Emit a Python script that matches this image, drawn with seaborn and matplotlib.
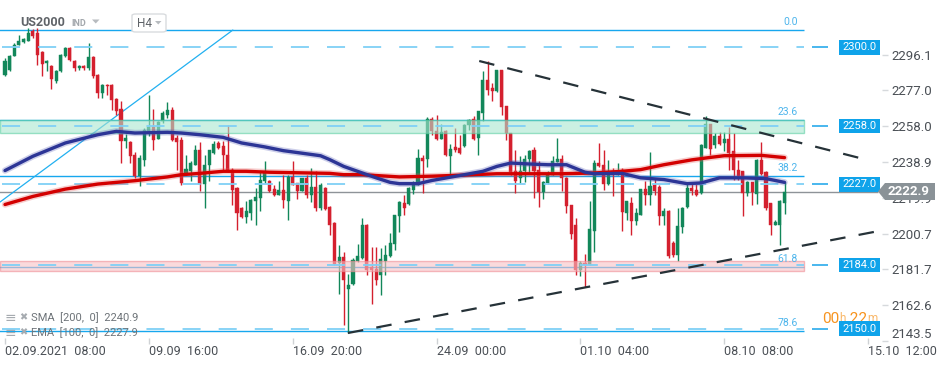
import matplotlib
matplotlib.use("Agg")
import matplotlib.pyplot as plt
import matplotlib.transforms as mtransforms
from matplotlib.patches import Polygon, Rectangle, FancyBboxPatch
import numpy as np
import pandas as pd
import seaborn as sns

# ---------------- data (US2000, H4) ----------------
opens = [2285.4, 2288.1, 2295.2, 2301.4, 2302.8, 2303.6, 2308.9, 2307.6, 2297.5, 2291.4,
         2289.8, 2281.9, 2287.2, 2295.2, 2299.6, 2292.9, 2288.7, 2290.2, 2289.0, 2294.7,
         2285.4, 2275.6, 2280.1, 2280.1, 2272.7, 2267.2, 2249.9, 2249.5, 2242.8, 2231.2,
         2240.1, 2255.6, 2257.4, 2251.2, 2260.6, 2263.8, 2266.6, 2251.6, 2250.6, 2232.8,
         2234.3, 2237.4, 2245.3, 2227.1, 2237.1, 2243.7, 2249.0, 2247.5, 2242.8, 2234.8,
         2225.0, 2214.4, 2209.3, 2211.7, 2218.3, 2219.7, 2228.6, 2228.6, 2224.4, 2221.4,
         2223.8, 2218.3, 2230.7, 2227.7, 2223.3, 2230.4, 2221.4, 2225.3, 2214.4, 2225.0,
         2214.8, 2206.3, 2185.0, 2188.0, 2171.3, 2173.8, 2185.9, 2187.7, 2205.1, 2182.8,
         2182.0, 2178.8, 2185.9, 2188.5, 2195.1, 2209.9, 2217.0, 2216.5, 2224.1, 2226.8,
         2240.9, 2240.6, 2261.8, 2255.6, 2251.2, 2255.2, 2241.9, 2246.6, 2246.3, 2247.2,
         2258.7, 2262.0, 2251.6, 2265.0, 2282.4, 2278.4, 2276.6, 2287.7, 2268.5, 2254.3,
         2233.9, 2230.4, 2234.3, 2240.6, 2245.3, 2234.5, 2222.9, 2227.5, 2232.1, 2238.9,
         2240.4, 2230.4, 2215.7, 2205.1, 2181.4, 2185.0, 2183.8, 2201.9, 2238.3, 2237.2,
         2227.1, 2233.9, 2232.1, 2234.6, 2211.7, 2217.0, 2207.6, 2210.8, 2224.6, 2221.4,
         2226.8, 2225.5, 2209.9, 2212.9, 2195.7, 2189.1, 2204.3, 2214.9, 2224.8, 2224.0,
         2222.4, 2246.3, 2259.3, 2248.1, 2252.5, 2249.0, 2251.2, 2244.6, 2234.8, 2233.9,
         2222.4, 2228.0, 2222.0, 2240.1, 2233.4, 2217.0, 2205.4, 2205.4, 2217.0]
highs = [2294.4, 2296.1, 2302.3, 2306.7, 2305.0, 2310.3, 2310.0, 2310.3, 2297.9, 2293.4,
         2290.4, 2288.1, 2296.4, 2299.9, 2299.9, 2293.3, 2290.7, 2290.7, 2302.3, 2295.1,
         2285.8, 2280.4, 2280.4, 2280.4, 2273.0, 2271.2, 2253.8, 2249.9, 2244.2, 2242.8,
         2257.0, 2274.8, 2267.1, 2260.6, 2265.9, 2270.9, 2268.2, 2253.4, 2252.0, 2242.8,
         2239.2, 2247.7, 2249.5, 2242.8, 2245.3, 2250.2, 2249.9, 2249.9, 2258.4, 2235.7,
         2225.3, 2214.8, 2217.9, 2219.2, 2225.0, 2234.3, 2239.6, 2229.5, 2226.8, 2228.6,
         2232.1, 2232.1, 2239.2, 2227.7, 2230.4, 2231.7, 2235.7, 2233.9, 2227.7, 2225.3,
         2215.3, 2206.7, 2194.4, 2190.9, 2179.2, 2187.7, 2195.1, 2209.1, 2205.8, 2193.3,
         2193.3, 2193.0, 2194.4, 2201.0, 2210.8, 2217.9, 2221.4, 2225.3, 2228.6, 2246.0,
         2242.8, 2262.7, 2262.7, 2263.8, 2259.1, 2256.1, 2248.4, 2257.0, 2253.1, 2259.1,
         2262.0, 2263.3, 2266.3, 2287.2, 2292.9, 2281.0, 2287.7, 2287.7, 2268.5, 2254.3,
         2245.5, 2241.9, 2242.8, 2245.5, 2246.6, 2239.2, 2228.6, 2233.9, 2241.9, 2251.6,
         2242.8, 2230.7, 2215.7, 2209.1, 2185.9, 2189.8, 2218.3, 2240.1, 2249.0, 2245.5,
         2240.0, 2235.7, 2238.3, 2235.7, 2218.3, 2220.0, 2214.4, 2224.6, 2228.6, 2244.2,
         2230.4, 2226.8, 2214.4, 2213.5, 2196.6, 2214.4, 2214.9, 2227.7, 2227.7, 2227.7,
         2248.4, 2263.3, 2259.3, 2254.3, 2254.9, 2254.9, 2257.4, 2254.3, 2240.1, 2234.3,
         2228.6, 2228.2, 2240.4, 2249.3, 2234.3, 2217.0, 2208.2, 2218.8, 2228.2]
lows = [2284.5, 2287.6, 2295.2, 2301.0, 2302.5, 2303.2, 2305.0, 2290.7, 2284.5, 2287.2,
        2277.7, 2281.0, 2286.8, 2294.8, 2292.5, 2287.2, 2288.1, 2288.1, 2288.1, 2283.6,
        2273.0, 2273.0, 2274.7, 2266.8, 2264.1, 2238.3, 2246.3, 2238.3, 2230.3, 2225.9,
        2236.5, 2252.5, 2245.4, 2251.2, 2259.7, 2262.4, 2249.9, 2234.8, 2226.8, 2232.1,
        2228.9, 2237.1, 2223.3, 2214.4, 2228.9, 2243.1, 2246.0, 2234.8, 2233.5, 2216.1,
        2202.7, 2209.0, 2206.4, 2208.2, 2205.4, 2212.6, 2227.7, 2222.9, 2220.9, 2221.4,
        2214.4, 2208.2, 2226.8, 2219.3, 2223.3, 2219.6, 2217.4, 2212.6, 2213.5, 2213.5,
        2199.8, 2184.1, 2168.5, 2152.1, 2147.7, 2173.5, 2185.6, 2187.4, 2178.4, 2163.2,
        2173.5, 2167.8, 2178.8, 2188.0, 2192.1, 2201.6, 2210.8, 2215.7, 2221.8, 2226.4,
        2222.2, 2236.0, 2253.1, 2250.7, 2251.2, 2241.9, 2232.1, 2244.2, 2243.1, 2246.8,
        2256.1, 2250.7, 2242.4, 2260.6, 2274.5, 2271.6, 2276.2, 2263.7, 2250.7, 2232.1,
        2222.4, 2227.7, 2228.2, 2233.0, 2219.6, 2214.9, 2219.3, 2227.1, 2231.7, 2238.9,
        2223.3, 2211.7, 2198.0, 2178.8, 2177.9, 2172.0, 2183.8, 2190.9, 2236.0, 2224.1,
        2226.8, 2220.5, 2231.7, 2201.9, 2208.2, 2200.1, 2205.1, 2210.4, 2216.1, 2216.1,
        2221.1, 2205.4, 2205.1, 2187.6, 2188.2, 2186.3, 2201.0, 2214.4, 2221.4, 2220.5,
        2222.0, 2246.3, 2242.8, 2246.3, 2248.1, 2244.9, 2234.8, 2229.5, 2229.5, 2209.9,
        2220.5, 2216.1, 2216.5, 2232.1, 2213.5, 2200.1, 2205.1, 2194.5, 2211.1]
closes = [2292.5, 2295.2, 2301.0, 2303.5, 2304.5, 2307.6, 2305.8, 2296.1, 2291.1, 2292.9,
          2283.2, 2287.6, 2296.1, 2299.6, 2293.4, 2288.7, 2290.2, 2288.7, 2294.7, 2284.5,
          2275.6, 2280.1, 2279.2, 2272.1, 2266.3, 2249.9, 2251.6, 2241.9, 2231.2, 2240.9,
          2256.1, 2257.4, 2250.7, 2260.2, 2265.0, 2266.6, 2250.7, 2249.5, 2227.7, 2235.0,
          2238.3, 2245.3, 2227.1, 2237.4, 2245.3, 2248.4, 2246.3, 2242.4, 2233.9, 2224.1,
          2211.7, 2209.3, 2212.6, 2218.8, 2220.3, 2229.5, 2233.5, 2223.3, 2221.4, 2223.8,
          2218.8, 2230.7, 2226.8, 2223.3, 2230.4, 2221.4, 2225.3, 2214.4, 2226.8, 2214.0,
          2205.4, 2184.5, 2188.0, 2175.8, 2173.1, 2186.5, 2188.5, 2205.1, 2181.4, 2181.1,
          2176.2, 2187.2, 2189.1, 2195.8, 2210.4, 2217.6, 2214.4, 2225.0, 2226.4, 2240.9,
          2239.6, 2262.0, 2255.6, 2251.2, 2254.9, 2242.4, 2246.0, 2245.5, 2243.5, 2258.7,
          2261.5, 2251.2, 2265.9, 2282.4, 2277.5, 2276.6, 2287.7, 2268.0, 2254.3, 2233.5,
          2228.6, 2234.3, 2240.6, 2244.9, 2233.9, 2222.9, 2228.2, 2232.1, 2239.6, 2240.4,
          2230.4, 2215.2, 2200.7, 2181.4, 2185.0, 2183.8, 2203.2, 2238.3, 2236.5, 2227.1,
          2232.5, 2232.1, 2234.3, 2212.0, 2217.9, 2207.6, 2211.7, 2224.4, 2221.1, 2226.2,
          2223.6, 2209.9, 2212.9, 2188.5, 2189.1, 2204.9, 2214.4, 2224.9, 2223.3, 2221.4,
          2247.7, 2259.3, 2246.0, 2252.5, 2248.4, 2251.2, 2243.7, 2234.8, 2231.2, 2222.4,
          2228.0, 2222.7, 2240.1, 2232.6, 2214.4, 2205.4, 2206.7, 2218.3, 2222.9]

# moving averages (candle index, value)
sma_idx = [0, 6, 13, 20, 28, 35, 38, 42, 47, 52, 57, 70, 73, 77, 85, 92, 99, 106, 113,
           120, 127, 133, 137, 142, 148, 152, 155, 163, 168]
sma_val = [2216.2, 2220.5, 2224.4, 2227.1, 2228.9, 2230.9, 2232.1, 2232.8, 2233.9, 2233.9,
           2233.4, 2232.8, 2232.1, 2232.1, 2230.9, 2231.3, 2231.9, 2232.6, 2232.6, 2232.6,
           2233.0, 2233.9, 2234.8, 2237.4, 2240.0, 2241.3, 2242.2, 2242.4, 2241.2]
ema_idx = [0, 6, 13, 20, 24, 28, 35, 38, 42, 47, 51, 56, 60, 68, 70, 73, 77, 80, 83, 85,
           89, 92, 99, 103, 106, 109, 113, 117, 121, 125, 127, 133, 137, 142, 147, 150,
           154, 159, 164, 168]
ema_val = [2234.3, 2241.9, 2249.0, 2253.4, 2255.2, 2254.3, 2254.7, 2254.3, 2253.4, 2252.0,
           2249.0, 2246.9, 2244.9, 2242.2, 2240.1, 2236.5, 2233.0, 2230.4, 2228.0, 2227.3,
           2227.3, 2229.0, 2232.1, 2233.9, 2236.5, 2238.3, 2237.8, 2237.4, 2237.4, 2233.4,
           2232.6, 2232.8, 2230.4, 2229.5, 2227.3, 2227.7, 2230.4, 2230.4, 2230.0, 2228.0]

level_prices = [2300.0, 2258.0, 2227.0, 2184.0, 2150.0]
fib_labels = ["0.0", "23.6", "38.2", "61.8", "78.6"]
fib_prices = [2309.2, 2261.0, 2231.2, 2182.9, 2148.6]
green_zone = [2254.2, 2261.0]
red_zone = [2180.8, 2186.1]
current_price = 2222.9
yticks = [2143.5, 2162.6, 2181.7, 2200.7, 2219.9, 2238.9, 2258.0, 2277.0, 2296.1]
xtick_pos = [0, 31, 62, 93, 124, 155, 186]
xtick_labels = ["02.09.2021  08:00", "09.09  16:00", "16.09  20:00", "24.09  00:00",
                "01.10  04:00", "08.10  08:00", "15.10  12:00"]
upper_trend_x = [102.2, 186.4]
upper_trend_y = [2292.7, 2239.6]
lower_trend_x = [73.9, 188.6]
lower_trend_y = [2147.7, 2202.2]
cyan_x = [-1.08, 49.1]
cyan_y = [2217.5, 2309.2]
sma_text = "SMA  [200,  0]  2240.9"
ema_text = "EMA  [100,  0]  2227.9"
timer_parts = [("00", 11, "#f7931e"), ("h", 8.5, "#f9b86a"), (" 22", 11, "#f7931e"),
               ("m", 8.5, "#f9b86a")]

# ---------------- figure ----------------
sns.set_theme(style="white")
plt.rcParams["font.family"] = ["Roboto", "DejaVu Sans"]

W, H = 950, 365
fig = plt.figure(figsize=(W / 100, H / 100), dpi=100)
fig.patch.set_facecolor("white")
ax = fig.add_axes([0, 24 / H, 882 / W, 341 / H])
ax.set_facecolor("white")
ax.set_xlim(-1.078, 189.0)
ax.set_ylim(2143.44, 2325.21)


def xi(px):
    return (px - 5) / 4.64


def fx(px):
    return px / W


def fy(py):
    return 1 - py / H


blend = mtransforms.blended_transform_factory(fig.transFigure, ax.transData)

# fib lines
ax.hlines(fib_prices, xi(0) - 1, xi(804), colors="#17a7ee", lw=1.0, zorder=2)
for lab, p in zip(fib_labels, fib_prices):
    ax.annotate(lab, xy=(xi(798), p), xytext=(0, 2.5), textcoords="offset points",
                ha="right", va="bottom", fontsize=7.5, color="#4db5ec", zorder=7)

# current price line
ax.hlines([current_price], xi(0) - 1, xi(878), colors="#8e9398", lw=1.0, zorder=2)

# cyan diagonal
ax.plot(cyan_x, cyan_y, color="#22b0f0", lw=0.9, zorder=2)

# candles
df = pd.DataFrame({"idx": np.arange(len(opens)), "open": opens, "high": highs,
                   "low": lows, "close": closes})
up = (df["close"] >= df["open"]).to_numpy()
GREEN, RED = "#12875a", "#d4202e"
cols = np.where(up, GREEN, RED)
ax.vlines(df["idx"], df["low"], df["high"], colors=cols, lw=1.0, zorder=3)
body_bottom = np.minimum(df["open"], df["close"])
body_h = np.maximum(np.abs(df["close"] - df["open"]), 0.6)
ax.bar(df["idx"], body_h, bottom=body_bottom, width=0.66, color=cols,
       edgecolor=cols, linewidth=0.3, zorder=3)

# zones
ax.axhspan(green_zone[0], green_zone[1], xmin=0, xmax=804 / 882, facecolor="#a9e6cf",
           edgecolor="#5fcfa4", lw=1.0, alpha=0.6, zorder=3.5)
ax.axhspan(red_zone[0], red_zone[1], xmin=0, xmax=804 / 882, facecolor="#f8c2c6",
           edgecolor="#ef8d95", lw=1.0, alpha=0.6, zorder=3.5)

# dashed levels
ax.hlines(level_prices, xi(2), xi(804), colors="#7fd0f6", lw=1.3,
          linestyles=[(0, (10, 10))], zorder=3.6)
ax.hlines(level_prices, xi(812), xi(828), colors="#17a3ea", lw=1.1, zorder=3.6)

# moving averages
sma_df = pd.DataFrame({"i": sma_idx, "v": sma_val})
ema_df = pd.DataFrame({"i": ema_idx, "v": ema_val})
sns.lineplot(data=sma_df, x="i", y="v", ax=ax, color="#e45a5a", lw=4.6, alpha=0.3,
             estimator=None, sort=False, zorder=4)
sns.lineplot(data=sma_df, x="i", y="v", ax=ax, color="#d30000", lw=2.4,
             estimator=None, sort=False, zorder=4.1)
sns.lineplot(data=ema_df, x="i", y="v", ax=ax, color="#5b63b8", lw=4.6, alpha=0.3,
             estimator=None, sort=False, zorder=4)
sns.lineplot(data=ema_df, x="i", y="v", ax=ax, color="#2c3596", lw=2.4,
             estimator=None, sort=False, zorder=4.1)

# trend lines
ax.plot(upper_trend_x, upper_trend_y, color="#263238", lw=1.6, ls=(0, (7, 6)), zorder=6)
ax.plot(lower_trend_x, lower_trend_y, color="#263238", lw=1.6, ls=(0, (7, 6)), zorder=6)

# timer text (below the price box)
fig.canvas.draw()
renderer = fig.canvas.get_renderer()
cur_x = 822
for txt, size, colr in timer_parts:
    t = ax.text(fx(cur_x), fy(319), txt, transform=fig.transFigure, fontsize=size,
                color=colr, va="center", ha="left", zorder=8, clip_on=False)
    cur_x += t.get_window_extent(renderer).width

# price boxes
for p in level_prices:
    ax.add_patch(Rectangle((fx(839), p - 3.9), 41 / W, 7.8, transform=blend,
                           facecolor="#0fa3ea", edgecolor="none", clip_on=False, zorder=9))
    ax.text(fx(859.5), p, f"{p:.1f}", transform=blend, ha="center", va="center",
            color="white", fontsize=8, zorder=10, clip_on=False)

# legend texts
for yy, t in [(318, sma_text), (333, ema_text)]:
    ax.text(fx(5), fy(yy), "≡", transform=fig.transFigure, fontsize=10, color="#a6abb0",
            va="center", ha="left", family="DejaVu Sans", zorder=11, clip_on=False)
    ax.text(fx(19), fy(yy - 1), "✖", transform=fig.transFigure, fontsize=7, color="#a6abb0",
            va="center", ha="left", family="DejaVu Sans", zorder=11, clip_on=False)
    ax.text(fx(31), fy(yy), t, transform=fig.transFigure, fontsize=8, color="#6d7378",
            va="center", ha="left", zorder=11, clip_on=False)

# axes styling
sns.despine(ax=ax, left=True, bottom=True, right=True, top=True)
ax.grid(False)
ax.set_xlabel("")
ax.set_ylabel("")
ax.yaxis.tick_right()
ax.set_yticks(yticks)
ax.set_yticklabels([f"{v:.1f}" for v in yticks])
ax.tick_params(axis="y", which="both", left=False, right=True, labelleft=False,
               labelright=True, length=4, width=1, color="#d6d9dc", pad=3,
               labelsize=9.5, labelcolor="#4a4f55")
ax.set_xticks(xtick_pos)
ax.set_xticklabels(xtick_labels, ha="left")
ax.tick_params(axis="x", bottom=True, length=4, width=1, direction="inout",
               color="#cfd2d5", pad=1, labelsize=9, labelcolor="#4a4f55")
ax.yaxis.get_major_ticks()[0].label2.set_va("bottom")

# current price box
pts = [(878, 191.5), (885, 183), (935, 183), (935, 200), (885, 200)]
fig.add_artist(Polygon([(fx(a), fy(b)) for a, b in pts], closed=True,
                       transform=fig.transFigure, facecolor="#8a9297", edgecolor="none"))
fig.text(fx(908), fy(191.5), f"{current_price:.1f}", color="white", fontsize=9.5,
         fontweight="bold", ha="center", va="center")

# header
fig.text(fx(20), fy(22.5), "US2000", fontsize=9, fontweight="bold", color="#5f6368",
         va="center", ha="left")
fig.text(fx(71), fy(23.5), "IND", fontsize=6.5, fontweight="bold", color="#a3a8ad",
         va="center", ha="left")
fig.add_artist(Polygon([(fx(92), fy(19.5)), (fx(99.5), fy(19.5)), (fx(95.75), fy(23.5))],
                       closed=True, transform=fig.transFigure, facecolor="#b7bbbf",
                       edgecolor="none"))
fig.add_artist(FancyBboxPatch((fx(132), fy(32)), 34 / W, 18 / H,
                              boxstyle="round,pad=0,rounding_size=0.004",
                              transform=fig.transFigure, edgecolor="#d9dcdf",
                              facecolor="white", lw=1))
fig.text(fx(137), fy(23.5), "H4", fontsize=8.5, color="#5f6368", va="center", ha="left")
fig.add_artist(Polygon([(fx(155), fy(21)), (fx(161.5), fy(21)), (fx(158.25), fy(24.5))],
                       closed=True, transform=fig.transFigure, facecolor="#b7bbbf",
                       edgecolor="none"))

fig.savefig("out.png", dpi=100, facecolor="white")
